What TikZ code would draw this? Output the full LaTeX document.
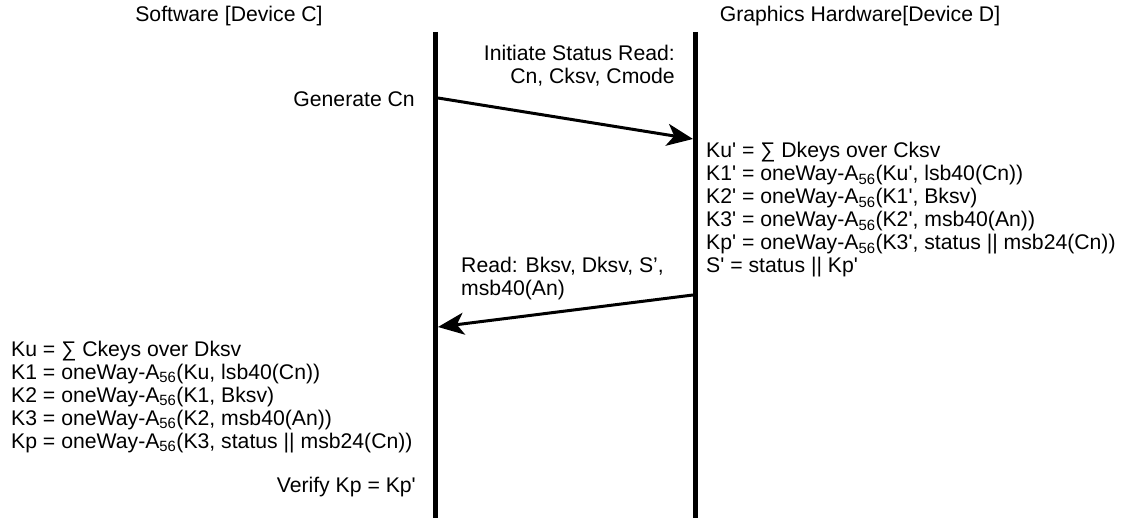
\documentclass[tikz,border=0pt]{standalone}
\usepackage{fontspec}
\setmainfont{Liberation Sans}[Ligatures=TeXOff]
\usetikzlibrary{arrows.meta,positioning}

\tikzset{
  txt/.style={inner sep=0pt, font=\fontsize{21.2}{23}\selectfont},
  lifeline/.style={line width=5.7pt},
  msg/.style={line width=3pt, -{Stealth[length=26pt,width=22pt,inset=7pt]}}
}
\newcommand{\Asub}{A\textsubscript{56}}

\begin{document}
\begin{tikzpicture}[x=1pt, y=-1pt]
        \useasboundingbox (0,0) rectangle (1129,518);

        % Lifelines
        \coordinate (ctop) at (435.5,32);
        \coordinate (cbot) at (435.5,518);
        \coordinate (dtop) at (695.5,32);
        \coordinate (dbot) at (695.5,518);
        \draw[lifeline] (ctop) -- (cbot);
        \draw[lifeline] (dtop) -- (dbot);

        % Titles
        \node[txt, anchor=base] (titleC) at (229,22) {Software [Device C]};
        \node[txt, anchor=base] (titleD) at (860,22) {Graphics Hardware[Device D]};

        % Status read request
        \node[txt, anchor=base east] (init1) at (675,61) {Initiate Status Read:};
        \node[txt, anchor=base east] (init2) at (675,84) {Cn, Cksv, Cmode};
        \node[txt, anchor=base east] (gen) at (415,107) {Generate Cn};
        \coordinate (req0) at (438,98);
        \coordinate (req1) at (693,139);
        \draw[msg] (req0) -- (req1);

        % Device D computation
        \foreach \t [count=\i from 0] in {%
            {Ku' = ∑ Dkeys over Cksv},
            {K1' = oneWay-\Asub(Ku', lsb40(Cn))},
            {K2' = oneWay-\Asub(K1', Bksv)},
            {K3' = oneWay-\Asub(K2', msb40(An))},
            {Kp' = oneWay-\Asub(K3', status || msb24(Cn))},
            {S' = status || Kp'}}
          \node[txt, anchor=base west] (d\i) at (706,158+23*\i) {\t};

        % Read response
        \node[txt, anchor=base west] (read1) at (461,273) {Read: Bksv, Dksv, S’,};
        \node[txt, anchor=base west] (read2) at (461,296) {msb40(An)};
        \coordinate (rsp0) at (693,295);
        \coordinate (rsp1) at (438,327);
        \draw[msg] (rsp0) -- (rsp1);

        % Device C computation
        \foreach \t [count=\i from 0] in {%
            {Ku = ∑ Ckeys over Dksv},
            {K1 = oneWay-\Asub(Ku, lsb40(Cn))},
            {K2 = oneWay-\Asub(K1, Bksv)},
            {K3 = oneWay-\Asub(K2, msb40(An))},
            {Kp = oneWay-\Asub(K3, status || msb24(Cn))}}
          \node[txt, anchor=base west] (c\i) at (11,356+23*\i) {\t};

        \node[txt, anchor=base east] (verify) at (416,492) {Verify Kp = Kp'};
    \end{tikzpicture}
\end{document}
